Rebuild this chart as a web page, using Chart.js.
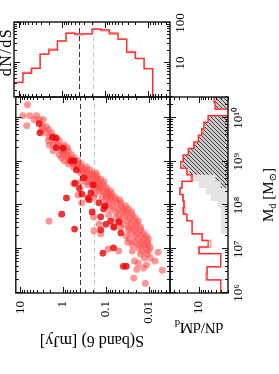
<!DOCTYPE html>
<html><head><meta charset="utf-8">
<script src="https://cdn.jsdelivr.net/npm/chart.js@4/dist/chart.umd.min.js"></script>
<style>
html,body{margin:0;padding:0;background:#fff;overflow:hidden;width:279px;height:374px;}
#fig{position:absolute;left:0;top:0;width:374px;height:279px;transform-origin:0 0;transform:translate(0,374px) rotate(-90deg);background:#fff;font-family:"Liberation Serif","DejaVu Serif",serif;color:#000;}
#fig canvas{position:absolute;left:0;top:0;}
.t{position:absolute;white-space:nowrap;line-height:1;}
.t sub{font-size:68%;vertical-align:-0.3em;line-height:0;}
</style></head><body>
<div id="fig">
<canvas id="cBot" width="374" height="279"></canvas>
<canvas id="cRight" width="374" height="279"></canvas>
<canvas id="cMain" width="374" height="279"></canvas>
<div class="t" style="left:33px;top:92px;font-size:16px;transform:translate(-50%,-50%) rotate(-90deg);">S(band 6) [mJy]</div>
<div class="t" style="left:46px;top:199px;font-size:15px;transform:translate(-50%,-50%) rotate(-90deg);">dN/dM<sub>d</sub></div>
<div class="t" style="left:179px;top:268px;font-size:15px;transform:translate(-50%,-50%);">M<sub>d</sub> [M<sub>&#8857;</sub>]</div>
<div class="t" style="left:322px;top:6px;font-size:16px;letter-spacing:1.5px;transform:translate(-50%,-50%);">dN/dS</div>
</div>
<script>
// ---------------- data ----------------
// scatter: log10 dust mass [Msun] and log10 S(band 6) [mJy]
const lightLogMd = [10.30,10.05,10.05,10.05,9.96,9.96,9.96,9.82,9.80,9.80,9.73,9.73,9.66,9.66,9.57,9.57,9.48,9.48,9.48,9.38,9.38,9.38,9.38,9.32,9.32,9.25,9.25,9.25,9.25,9.16,9.16,9.16,9.16,9.09,9.09,9.09,9.02,9.02,9.02,8.95,8.95,8.95,8.95,8.88,8.88,8.88,8.88,8.81,8.81,8.81,8.81,8.74,8.74,8.74,8.74,8.68,8.68,8.68,8.68,8.60,8.60,8.60,8.60,8.54,8.54,8.54,8.54,8.54,8.47,8.47,8.47,8.47,8.40,8.40,8.40,8.40,8.33,8.33,8.33,8.33,8.26,8.26,8.26,8.26,8.19,8.19,8.19,8.19,8.19,8.13,8.13,8.13,8.13,8.06,8.06,8.06,7.99,7.99,7.99,7.99,7.92,7.92,7.92,7.92,7.85,7.85,7.85,7.85,7.78,7.78,7.78,7.78,7.71,7.71,7.71,7.71,7.64,7.64,7.64,7.64,7.57,7.57,7.57,7.57,7.50,7.50,7.50,7.50,7.50,7.44,7.44,7.44,7.42,7.37,7.37,7.37,7.30,7.30,7.30,7.30,7.23,7.23,7.23,7.23,7.16,7.16,7.16,7.16,7.10,7.10,7.10,7.10,7.03,7.03,7.03,7.00,6.96,6.96,6.96,6.96,6.89,6.89,6.93,6.80,6.80,6.73,6.68,6.64,6.57,6.54,6.52,6.34,6.22,7.64,8.24,8.49,8.06,7.74,7.35,6.73];
const lightLogS  = [0.83,0.94,0.78,0.62,0.55,0.46,0.67,0.85,0.39,0.48,0.50,0.34,0.41,0.27,0.32,0.23,0.34,0.20,0.09,0.32,0.11,-0.03,0.23,0.04,-0.10,0.23,0.04,-0.12,-0.03,-0.08,0.09,-0.19,-0.01,0.04,-0.12,-0.26,-0.03,-0.14,-0.35,-0.12,-0.24,-0.42,-0.33,-0.24,-0.42,-0.54,-0.33,-0.54,-0.40,-0.63,-0.47,-0.42,-0.54,-0.68,-0.77,-0.51,-0.61,-0.79,-0.70,-0.61,-0.88,-0.74,-0.81,-0.42,-0.56,-0.68,-0.81,-0.95,-0.58,-0.77,-0.95,-0.86,-0.72,-0.88,-1.02,-0.81,-0.84,-1.02,-0.93,-1.11,-0.98,-1.14,-0.74,-1.07,-0.72,-1.11,-0.91,-1.21,-1.02,-1.00,-1.23,-1.11,-1.32,-1.07,-1.23,-1.35,-1.16,-1.00,-1.35,-1.46,-1.11,-1.28,-1.41,-1.53,-1.23,-1.39,-1.48,-1.60,-1.07,-1.30,-1.46,-1.62,-1.23,-1.39,-1.55,-1.69,-1.32,-1.51,-1.65,-1.76,-1.41,-1.58,-1.72,-0.84,-1.18,-1.53,-1.67,-1.81,-1.35,-1.53,-1.67,-1.81,-0.72,-1.60,-1.74,-1.88,-1.48,-1.69,-1.83,-1.95,-1.55,-1.74,-1.88,-1.99,-1.51,-1.67,-1.83,-1.97,-1.62,-1.78,-1.99,-1.90,-1.76,-1.92,-2.04,-1.05,-1.62,-1.85,-1.30,-1.99,-1.81,-1.97,-2.22,-2.04,-1.90,-1.67,-1.76,-1.95,-1.88,-1.72,-2.32,-1.65,-1.92,0.33,-0.35,-0.25,-0.44,-0.71,-0.88,-2.15];
const darkLogMd = [9.87,9.66,9.54,9.56,9.32,9.02,9.02,8.81,8.63,8.51,8.47,8.29,8.26,8.13,8.06,7.99,7.92,7.85,7.74,7.64,7.57,7.44,7.37,7.03,6.91,6.61,6.61,8.17,7.80,7.46,8.17,7.51,7.62,9.31,8.39];
const darkLogS  = [0.56,0.54,0.16,0.25,0.16,-0.26,-0.19,-0.31,-0.49,-0.28,-0.70,-0.65,-0.44,-0.61,-0.84,-0.98,-0.95,-0.68,-0.88,-1.11,-1.00,-0.88,-1.35,-1.18,-0.93,-1.41,-1.48,-0.08,0.03,-0.27,-0.58,-1.19,-1.30,0.00,-0.38];

// flux thresholds [mJy] (dashed lines)
const sThresholds = [0.40, 0.19];
const thresholdColors = ['#383838', '#c4c4c4'];

// dN/dS histogram (bins in log10 S)
const sBinLogEdges = [-2.5,-2.3,-2.1,-1.9,-1.7,-1.5,-1.3,-1.1,-0.9,-0.7,-0.5,-0.3,-0.1,0.1,0.3,0.5,0.7,0.9,1.1];
const dNdS    = [0,0,7.2,12.9,18.4,39.3,55.8,67.6,70.4,53.5,53.5,55.8,35.5,21,16.6,7.3,5.5,3.24];
const dNdSAlt = [0,0,7.2,12.9,19.5,39.3,52,64,70.4,53.5,50,55.8,35.5,22.5,16.6,7.3,5.8,3.24];

// dN/dMd histogram (bins in log10 Md)
const mdBinLogEdges = [6.0,6.15,6.3,6.45,6.6,6.75,6.9,7.05,7.2,7.35,7.5,7.65,7.8,7.95,8.1,8.25,8.4,8.55,8.7,8.85,9.0,9.15,9.3,9.45,9.6,9.75,9.9,10.05,10.2,10.35,10.5];
const dNdMd        = [3.0,3.0,6.4,6.4,3.0,3.0,10,6,8.4,14.7,14.7,19.5,24,23,24.3,28.7,25.7,14.7,19.5,27.6,24,18.1,13.2,10.4,8.6,7.6,6.0,0,4.1,4.3];
const dNdMdAlt     = [3.0,3.0,6.9,6.4,3.0,3.0,10,5.2,8.4,14.7,14.7,19.5,22,23,24.3,28.7,25.7,15.5,19.5,27.6,24,18.1,13.2,10.4,8.6,7.6,6.0,0,4.1,4.3];
const dNdMdHatched = [0,0,0,0,0,0,0,0,0,0,0,0,0,0,0,0,3.0,4,17,25,23,18.1,13.2,10.4,8.6,7.6,6.0,0,4.1,4.3];
const dNdMdGrey    = [0,0,0,0,0,0,0,0,0,3.0,3.0,3.0,3.0,3.6,5.2,6.9,10,14,19,25,23,18.1,13.2,10.4,8.6,7.6,6.0,0,4.1,4.3];

// axis ranges and tick labels
const sRange = [Math.pow(10,-2.5), Math.pow(10,1.104)];
const mdRange = [1e6, 3e10];
const dNdSRange = [1.4, 106];
const dNdMdRange = [2, 50];
const sTickValues = [0.01, 0.1, 1, 10];
const sTickLabels = ['0.01', '0.1', '1', '10'];
const mdTickValues = [1e6, 1e7, 1e8, 1e9, 1e10];
const mdTickLabels = ['10\u2076', '10\u2077', '10\u2078', '10\u2079', '10\u00B9\u2070'];
const dNdSTickValues = [10, 100];
const dNdSTickLabels = ['10', '100'];
const dNdMdTickValues = [10];
const dNdMdTickLabels = ['10'];

// ---------------- helpers ----------------
const FONT = {family: 'Liberation Serif', size: 13};
function pts(logX, logY) { return logX.map((m, i) => ({x: Math.pow(10, m), y: Math.pow(10, logY[i])})); }
function hStep(edges, vals, floor) {
  const p = vals.map((v, i) => ({x: Math.pow(10, edges[i]), y: v > 0 ? v : floor}));
  p.push({x: Math.pow(10, edges[vals.length]), y: p[p.length - 1].y});
  return p;
}
function vStep(edges, vals, floor) {
  const p = vals.map((v, i) => ({x: v > 0 ? v : floor, y: Math.pow(10, edges[i])}));
  p.push({x: p[p.length - 1].x, y: Math.pow(10, edges[vals.length])});
  return p;
}
function logTickValues(min, max) {
  const out = [];
  const lo = Math.floor(Math.log10(min)), hi = Math.ceil(Math.log10(max));
  for (let d = lo; d <= hi; d++) for (let m = 1; m <= 9; m++) {
    const v = m * Math.pow(10, d);
    if (v >= min * 0.9999 && v <= max * 1.0001) out.push({v: v, major: m === 1});
  }
  return out;
}
const framePlugin = {
  id: 'frame',
  beforeDatasetsDraw(chart, args, opts) {
    if (!opts || !opts.dashes) return;
    const {ctx, chartArea: a, scales} = chart;
    ctx.save(); ctx.lineWidth = 1; ctx.setLineDash([5, 3]);
    sThresholds.forEach((t, i) => {
      const p = Math.round(scales.y.getPixelForValue(t)) + 0.5;
      ctx.strokeStyle = thresholdColors[i];
      ctx.beginPath(); ctx.moveTo(a.left, p); ctx.lineTo(a.right, p); ctx.stroke();
    });
    ctx.restore();
  },
  afterDatasetsDraw(chart) {
    const {ctx, chartArea: a, scales} = chart;
    ctx.save();
    ctx.strokeStyle = '#111'; ctx.lineWidth = 1;
    ctx.beginPath();
    for (const t of logTickValues(scales.x.min, scales.x.max)) {
      const p = Math.round(scales.x.getPixelForValue(t.v)) + 0.5;
      const len = t.major ? 6 : 3;
      ctx.moveTo(p, a.top); ctx.lineTo(p, a.top + len);
      ctx.moveTo(p, a.bottom); ctx.lineTo(p, a.bottom - len);
    }
    for (const t of logTickValues(scales.y.min, scales.y.max)) {
      const p = Math.round(scales.y.getPixelForValue(t.v)) + 0.5;
      const len = t.major ? 6 : 3;
      ctx.moveTo(a.left, p); ctx.lineTo(a.left + len, p);
      ctx.moveTo(a.right, p); ctx.lineTo(a.right - len, p);
    }
    ctx.stroke();
    ctx.lineWidth = 1.4; ctx.strokeStyle = '#111';
    ctx.strokeRect(a.left, a.top, a.right - a.left, a.bottom - a.top);
    ctx.restore();
  }
};
function setTicks(values) { return (s) => { s.ticks = values.map(v => ({value: v})); }; }
function hiddenLog(range) { return {type: 'logarithmic', min: range[0], max: range[1], display: false}; }
function shownLog(range, pos, values, labels, pad, fitFn) {
  return {
    type: 'logarithmic', min: range[0], max: range[1], position: pos, display: true,
    grid: {display: false, drawTicks: false}, border: {display: false},
    ticks: {font: FONT, color: '#000', padding: pad, autoSkip: false, maxRotation: 0, minRotation: 0,
            callback: (v, i) => labels[i]},
    afterBuildTicks: setTicks(values),
    afterFit: fitFn
  };
}
const common = {
  responsive: false, animation: false, devicePixelRatio: 1, events: [],
  plugins: {legend: {display: false}, tooltip: {enabled: false}}
};

// hatch pattern
const pc = document.createElement('canvas'); pc.width = 4; pc.height = 4;
const pctx = pc.getContext('2d');
pctx.fillStyle = '#cdcdcd'; pctx.fillRect(0, 0, 4, 4);
pctx.strokeStyle = '#3c3c3c'; pctx.lineWidth = 1;
pctx.beginPath(); pctx.moveTo(0, 4); pctx.lineTo(4, 0); pctx.moveTo(-1, 1); pctx.lineTo(1, -1); pctx.moveTo(3, 5); pctx.lineTo(5, 3); pctx.stroke();
const hatch = pctx.createPattern(pc, 'repeat');

// ---------------- main scatter ----------------
new Chart(document.getElementById('cMain'), {
  type: 'scatter',
  data: {datasets: [
    {data: pts(darkLogMd, darkLogS), backgroundColor: 'rgba(236,0,0,0.8)', borderWidth: 0, pointRadius: 3.4},
    {data: pts(lightLogMd, lightLogS), backgroundColor: 'rgba(255,75,75,0.58)', borderWidth: 0, pointRadius: 3.5}
  ]},
  options: Object.assign({}, common, {
    layout: {padding: {left: 0, right: 97, top: 14, bottom: 109}},
    scales: {
      x: hiddenLog(mdRange),
      y: shownLog(sRange, 'left', sTickValues, sTickLabels, 8, s => { s.width = 81; })
    },
    plugins: Object.assign({}, common.plugins, {frame: {dashes: true}})
  }),
  plugins: [framePlugin]
});

// ---------------- right: dN/dS ----------------
new Chart(document.getElementById('cRight'), {
  type: 'line',
  data: {datasets: [
    {data: vStep(sBinLogEdges, dNdS, 0.5), borderColor: '#ff2a2a', borderWidth: 1.3, pointRadius: 0, stepped: 'after', fill: false},
    {data: vStep(sBinLogEdges, dNdSAlt, 0.5), borderColor: '#ff9f9f', borderWidth: 1.6, pointRadius: 0, stepped: 'after', fill: false}
  ]},
  options: Object.assign({}, common, {
    layout: {padding: {left: 277, right: 22, top: 14, bottom: 0}},
    scales: {
      x: shownLog(dNdSRange, 'bottom', dNdSTickValues, dNdSTickLabels, 3, s => { s.height = 109; }),
      y: hiddenLog(sRange)
    },
    plugins: Object.assign({}, common.plugins, {frame: {dashes: true}})
  }),
  plugins: [framePlugin]
});

// ---------------- bottom: dN/dMd ----------------
new Chart(document.getElementById('cBot'), {
  type: 'line',
  data: {datasets: [
    {data: hStep(mdBinLogEdges, dNdMd, 1), borderColor: '#ff2a2a', borderWidth: 1.3, pointRadius: 0, stepped: true, fill: false, order: 1},
    {data: hStep(mdBinLogEdges, dNdMdAlt, 1), borderColor: '#ff9f9f', borderWidth: 1.6, pointRadius: 0, stepped: true, fill: false, order: 2},
    {data: hStep(mdBinLogEdges, dNdMdHatched, 1), borderWidth: 0, borderColor: 'rgba(0,0,0,0)', backgroundColor: hatch, pointRadius: 0, stepped: true, fill: 'start', order: 3},
    {data: hStep(mdBinLogEdges, dNdMdGrey, 1), borderWidth: 0, borderColor: 'rgba(0,0,0,0)', backgroundColor: '#e4e4e4', pointRadius: 0, stepped: true, fill: 'start', order: 4}
  ]},
  options: Object.assign({}, common, {
    layout: {padding: {left: 0, right: 97, top: 170, bottom: 0}},
    scales: {
      x: shownLog(mdRange, 'bottom', mdTickValues, mdTickLabels, 3, s => { s.height = 51; }),
      y: shownLog(dNdMdRange, 'left', dNdMdTickValues, dNdMdTickLabels, 8, s => { s.width = 81; })
    },
    plugins: Object.assign({}, common.plugins, {frame: {dashes: false}})
  }),
  plugins: [framePlugin]
});
</script>
</body></html>
